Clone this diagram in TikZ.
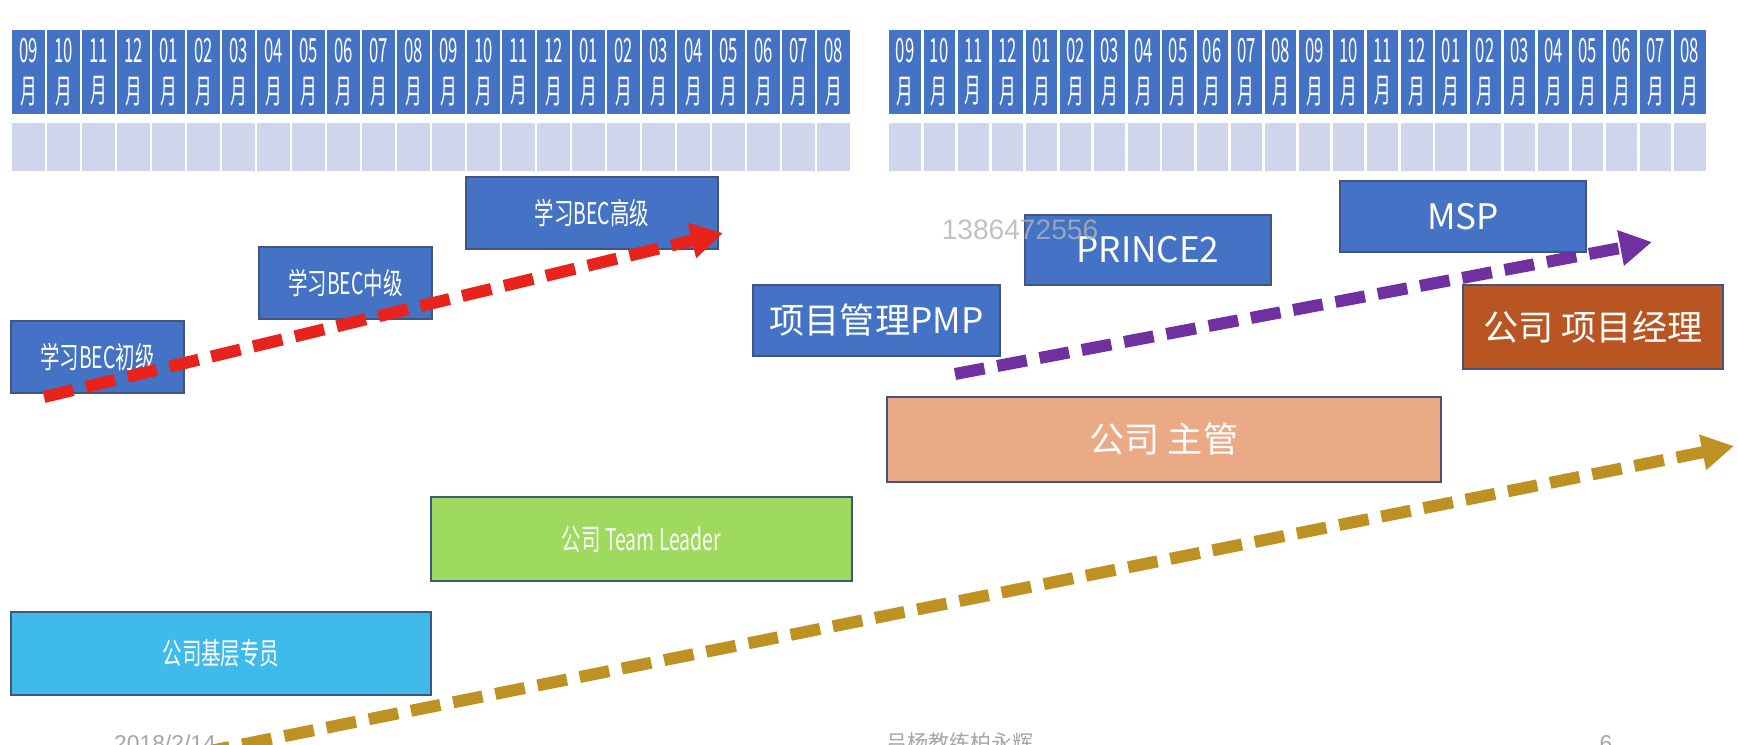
\documentclass[tikz,border=0pt]{standalone}
\usepackage{fontspec}
\setmainfont{Noto Sans CJK SC}
\newfontfamily\cjkc[FakeStretch=0.65]{Noto Sans CJK SC}
\newfontfamily\cjkm[FakeStretch=0.5]{Noto Sans CJK SC}
\newfontfamily\arialfont{Liberation Sans}
\usetikzlibrary{arrows.meta}

\definecolor{hdblue}{RGB}{68,114,196}
\definecolor{slotgray}{RGB}{207,213,234}
\definecolor{boxline}{RGB}{65,85,130}
\definecolor{arrred}{RGB}{232,35,27}
\definecolor{arrpurple}{RGB}{112,48,160}
\definecolor{arrgold}{RGB}{190,145,35}
\definecolor{pmbrown}{RGB}{185,85,35}
\definecolor{mgrsalmon}{RGB}{234,170,134}
\definecolor{tlgreen}{RGB}{158,218,94}
\definecolor{basecyan}{RGB}{62,187,234}

\begin{document}
\begin{tikzpicture}[
  x=0.01cm, y=-0.01cm,
  month/.style={fill=hdblue, draw=white, line width=0.8pt, text=white,
                minimum height=0.86cm, inner sep=0pt, align=center,
                font=\cjkm\fontsize{9.5}{11.5}\selectfont},
  slot/.style={fill=slotgray, draw=white, line width=0.8pt,
               minimum height=0.5cm, inner sep=0pt},
  box/.style={draw=boxline, line width=0.6pt, inner sep=0pt, text=white},
  small/.style={box, font=\cjkc\fontsize{8.5}{10}\selectfont},
  big/.style={box, font=\fontsize{10}{12}\selectfont},
  dasharr/.style={-{Triangle[length=0.32cm,width=0.34cm]}, line width=0.12cm,
                  dash pattern=on 0.3cm off 0.13cm},
  foot/.style={text=gray!70, inner sep=0pt}
]
\clip (0,0) rectangle (1738,744);

% month header, left and right
\foreach \m [count=\i from 0] in {09,10,11,12,01,02,03,04,05,06,07,08,09,10,11,12,01,02,03,04,05,06,07,08} {
  \node[month, minimum width=0.35cm] (ml\i) at ({28.5+35*\i},72) {\m\\月};
  \node[slot, minimum width=0.35cm] (sl\i) at ({28.5+35*\i},147) {};
  \node[month, minimum width=0.3412cm] (mr\i) at ({905.06+34.125*\i},72) {\m\\月};
  \node[slot, minimum width=0.3412cm] (sr\i) at ({905.06+34.125*\i},147) {};
}

% study boxes
\node[small, fill=hdblue, minimum width=1.73cm, minimum height=0.72cm] (bec1) at (97.5,357) {学习BEC初级};
\node[small, fill=hdblue, minimum width=1.73cm, minimum height=0.72cm] (bec2) at (345.5,283) {学习BEC中级};
\node[small, fill=hdblue, minimum width=2.52cm, minimum height=0.72cm] (bec3) at (592,213) {学习BEC高级};
\node[big, fill=hdblue, minimum width=2.47cm, minimum height=0.71cm] (pmp) at (876.5,320.5) {项目管理PMP};
\node[big, fill=hdblue, minimum width=2.46cm, minimum height=0.70cm] (prince) at (1148,250) {PRINCE2};
\node[big, fill=hdblue, minimum width=2.46cm, minimum height=0.71cm] (msp) at (1463,216.5) {MSP};

% job boxes
\node[big, fill=pmbrown, minimum width=2.6cm, minimum height=0.84cm] (pm) at (1593,327) {公司 项目经理};
\node[big, fill=mgrsalmon, minimum width=5.54cm, minimum height=0.85cm] (mgr) at (1164,439.5) {公司 主管};
\node[small, fill=tlgreen, minimum width=4.21cm, minimum height=0.84cm] (tl) at (641.5,539) {公司 Team Leader};
\node[small, fill=basecyan, minimum width=4.2cm, minimum height=0.83cm] (staff) at (221,653.5) {公司基层专员};

% arrows
\coordinate (redS) at (44,397);
\coordinate (redE) at (723,233);
\coordinate (purS) at (955,374);
\coordinate (purE) at (1652,242);
\coordinate (golS) at (200,753);
\coordinate (golE) at (1734,446);
\draw[dasharr, arrred] (redS) -- (redE);
\draw[dasharr, arrpurple] (purS) -- (purE);
\draw[dasharr, arrgold] (golS) -- (golE);

% watermark and footer
\node[text=gray!60, opacity=0.8, inner sep=0pt, font=\arialfont\fontsize{8}{10}\selectfont] (wm) at (1020,230) {1386472556};
\node[foot, anchor=base, font=\arialfont\fontsize{6.5}{8}\selectfont] (date) at (165,751) {2018/2/14};
\node[foot, anchor=north, font=\fontsize{6}{8}\selectfont] (author) at (960,732) {吕杨教练柏永辉};
\node[foot, anchor=base, font=\arialfont\fontsize{6.5}{8}\selectfont] (page) at (1606,751) {6};
\end{tikzpicture}
\end{document}
